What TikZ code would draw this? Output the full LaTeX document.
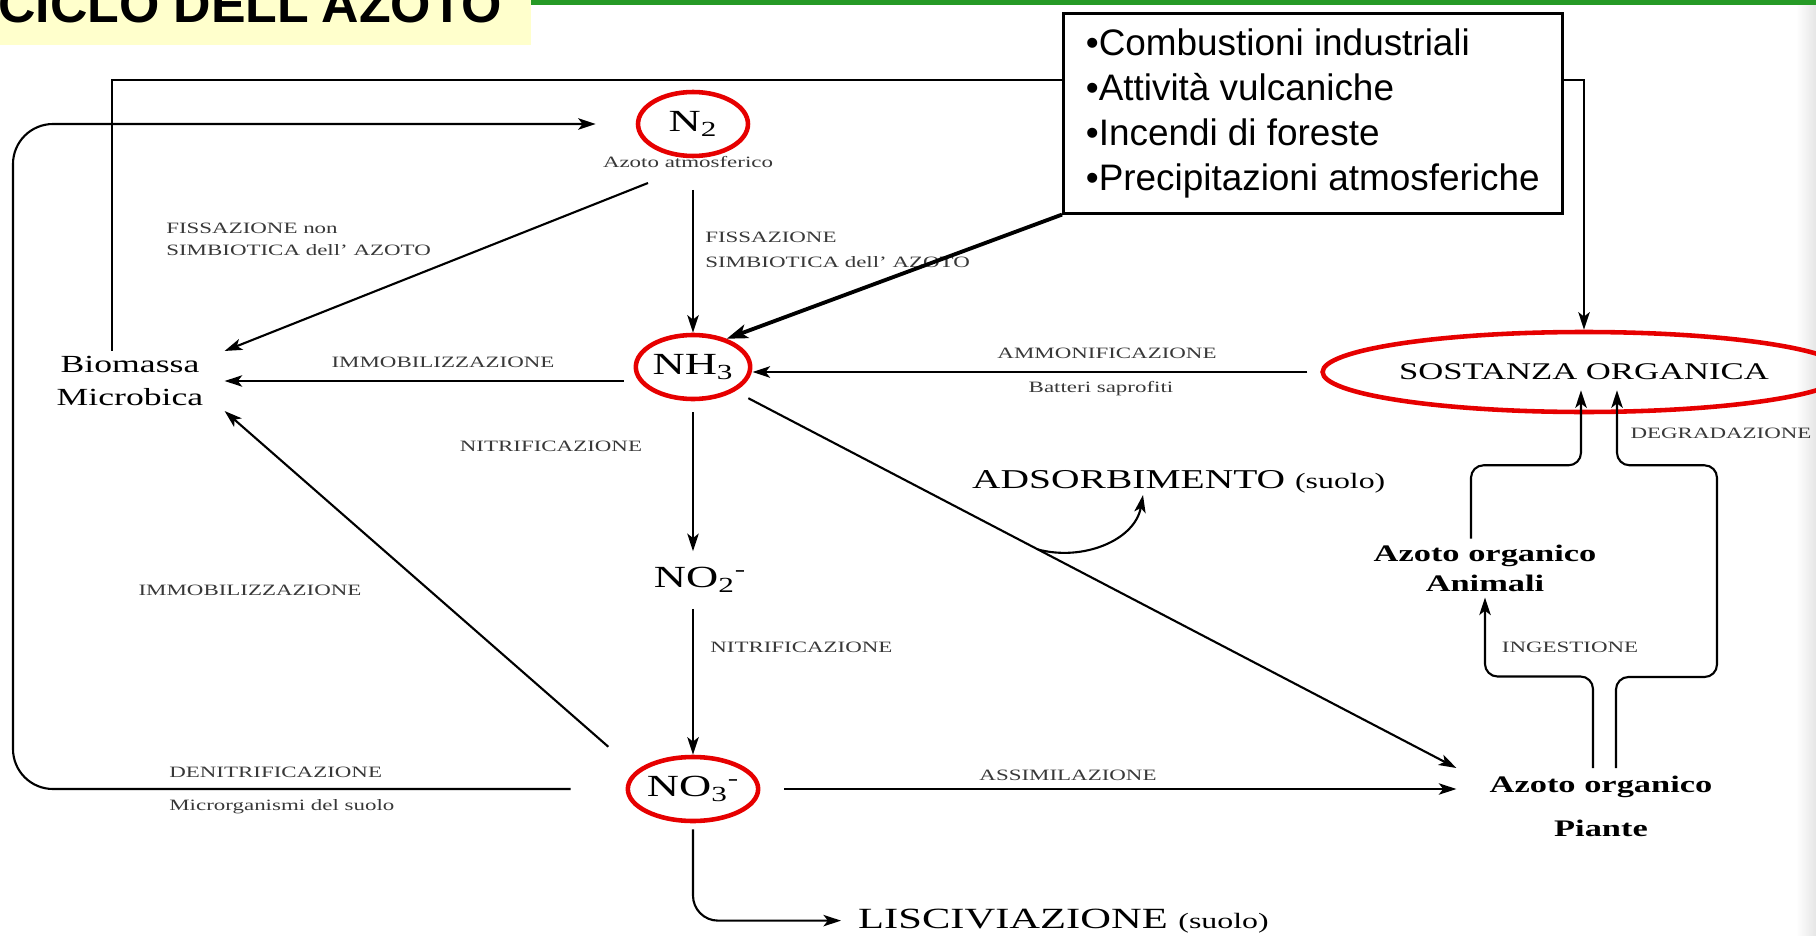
\documentclass[tikz,border=0pt]{standalone}
\usepackage{fontspec}
\setmainfont[FakeStretch=1.45]{Liberation Serif}
\newfontfamily\arialfont{Liberation Sans}
\usetikzlibrary{arrows.meta,shapes.geometric,calc}
\definecolor{titlebg}{RGB}{255,255,204}
\definecolor{barverde}{RGB}{38,154,38}
\definecolor{cerchio}{RGB}{230,0,0}

\begin{document}
\begin{tikzpicture}[x=0.02cm,y=-0.02cm,
  ring/.style={ellipse,draw=cerchio,line width=2.6pt,inner sep=0pt,minimum width=2.2cm,minimum height=1.28cm},
  chem/.style={font=\fontsize{17.5}{17.5}\selectfont},
  flow/.style={line width=1.2pt,-{Stealth[length=10pt,width=6.5pt,inset=2.5pt]}},
  lab/.style={font=\fontsize{9}{12.5}\selectfont,text=black!78,inner sep=0pt},
  org/.style={font=\bfseries\fontsize{13.5}{17}\selectfont,align=center}]

\useasboundingbox (0,0) rectangle (1816,936);
\clip (0,0) rectangle (1816,936);

\shade[left color=white,right color=black!10] (1796,5) rectangle (1816,936);
\fill[titlebg] (0,0) rectangle (531,45);
\fill[barverde] (531,0) rectangle (1816,5);
\node[anchor=base west,inner sep=0pt,font=\arialfont\bfseries\fontsize{29.5}{30}\selectfont] (titolo) at (-2,23) {CICLO DELL'AZOTO};

\coordinate (alto) at (0,80);
\coordinate (sx) at (13,400);

\node[ring,chem] (n2) at (693,124) {N\textsubscript{2}};
\node[lab] (atm) at (688,162) {Azoto atmosferico};
\node[ring,chem] (nh3) at (693,367) {NH\textsubscript{3}};
\node[chem,inner sep=0.32cm] (no2) at (700,580) {NO\textsubscript{2}\textsuperscript{-}};
\node[ring,chem] (no3) at (693,789) {NO\textsubscript{3}\textsuperscript{-}};
\node[ring,minimum width=9.2cm,minimum height=1.6cm,font=\fontsize{13.6}{14}\selectfont] (so) at (1584,372) {SOSTANZA ORGANICA};
\node[align=center,font=\fontsize{14}{18.7}\selectfont,inner xsep=0.42cm,inner ysep=0.1cm] (bio) at (130,381) {Biomassa\\Microbica};
\node[org] (ani) at (1485,568) {Azoto organico\\Animali};
\node[org,anchor=north,font=\bfseries\fontsize{13.5}{25}\selectfont,inner xsep=0.66cm,inner ysep=0.16cm] (pia) at (1601,768) {Azoto organico\\Piante};
\node[anchor=base west,font=\fontsize{15.5}{16}\selectfont] (ads) at (966,488) {ADSORBIMENTO {\fontsize{12.5}{13}\selectfont(suolo)}};
\node[anchor=base west,font=\fontsize{16.7}{17}\selectfont] (lis) at (852,928) {LISCIVIAZIONE {\fontsize{12.5}{13}\selectfont(suolo)}};

\draw[flow] ([xshift=-0.36cm]bio.north) |- (so.north |- alto) -- (so.north);

\node[draw,line width=1.5pt,fill=white,anchor=north west,minimum width=9.98cm,minimum height=4cm,align=left,font=\arialfont\fontsize{21}{25.5}\selectfont] (fonti) at (1062,12) {•Combustioni industriali\\•Attività vulcaniche\\•Incendi di foreste\\•Precipitazioni atmosferiche};

\node[lab,anchor=west,align=left] (fns) at (166,239) {FISSAZIONE non\\SIMBIOTICA dell' AZOTO};
\node[lab,anchor=west,align=left,font=\fontsize{9}{14}\selectfont] (fs) at (705,250) {FISSAZIONE\\SIMBIOTICA dell' AZOTO};
\node[lab] (imm1) at (443,362) {IMMOBILIZZAZIONE};
\node[lab] (amm) at (1107,353) {AMMONIFICAZIONE};
\node[lab] (batt) at (1101,389) {Batteri saprofiti};
\node[lab] (nit1) at (551,446) {NITRIFICAZIONE};
\node[lab] (imm2) at (250,590) {IMMOBILIZZAZIONE};
\node[lab,anchor=west] (nit2) at (710,647) {NITRIFICAZIONE};
\node[lab,anchor=west] (den) at (169,772) {DENITRIFICAZIONE};
\node[lab,anchor=west] (micr) at (169,807) {Microrganismi del suolo};
\node[lab] (ass) at (1068,775) {ASSIMILAZIONE};
\node[lab] (degr) at (1721,433) {DEGRADAZIONE};
\node[lab] (ing) at (1570,647) {INGESTIONE};

\draw[flow,rounded corners=0.8cm] ([xshift=-1.1cm]no3.west) -| (sx) |- ([xshift=-0.8cm]n2.west);
\draw[flow] ($(atm.south)+(-40,15)$) -- (bio.north east);
\draw[flow] ($(atm.south -| n2)+(0,22)$) -- (nh3.north);
\draw[flow,shorten <=0.2cm] (nh3.west |- bio.east) -- (bio.east);
\draw[flow,shorten <=0.26cm] (so.west) -- (so.west -| nh3.east);
\draw[line width=2.2pt,-{Stealth[length=12pt,width=8pt,inset=3pt]}] (fonti.south west) -- (nh3.40);
\draw[flow,shorten <=0.22cm] (nh3.south) -- (nh3.south |- no2.north);
\draw[flow] (no3.north |- no2.south) -- (no3.north);
\draw[flow,shorten <=0.3cm] (nh3.-30) -- coordinate[pos=0.42] (ads0) (pia.north west);
\draw[flow] (ads0) to[out=-15,in=-100] ($(ads.base west)+(177,7)$);
\draw[flow] ($(no3.north west)+(-37,-18)$) -- (bio.south east);
\draw[flow,shorten <=0.48cm] (no3.east) -- (no3.east -| pia.west);
\draw[flow,rounded corners=0.5cm,shorten <=0.12cm,shorten >=0.22cm] (no3.south) |- (lis.west);

\draw[flow,rounded corners=0.25cm] ($(ani.north)+(-14,0)$) |- ($(so.south)+(-3,51)$) -- ($(so.south)+(-3,-24)$);
\draw[flow,rounded corners=0.25cm] ($(pia.north)+(15,0)$) |- ($(pia.north)+(116,-91)$) |- ($(so.south)+(33,51)$) -- ($(so.south)+(33,-24)$);
\draw[flow,rounded corners=0.25cm] ($(pia.north)+(-8,0)$) |- ($(ani.south)+(0,79)$) -- (ani.south);

\end{tikzpicture}
\end{document}
